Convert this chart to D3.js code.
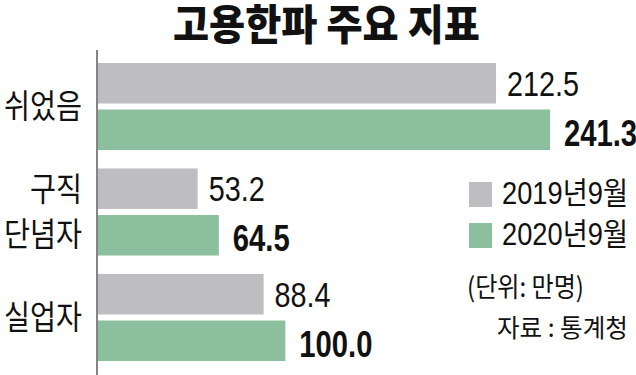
<!DOCTYPE html>
<html>
<head>
<meta charset="utf-8">
<script src="https://cdn.jsdelivr.net/npm/d3@7"></script>
<style>
  body { margin: 0; background: #fff; }
  svg { display: block; }
  text { fill: #111; }
</style>
</head>
<body>
<script>
// data
const categories = ["쉬었음", "구직 단념자", "실업자"];
const series = ["2019년9월", "2020년9월"];
const values2019 = [212.5, 53.2, 88.4];
const values2020 = [241.3, 64.5, 100.0];
const title = "고용한파 주요 지표";
const unitLabel = "(단위: 만명)";
const sourceLabel = "자료 : 통계청";

const width = 636, height = 375;
const colors = ["#bebdc2", "#8cbf9d"];
const axisX = 97;

const svg = d3.select("body").append("svg")
    .attr("width", width)
    .attr("height", height);

/**
 * Squeezes a text horizontally so it spans w pixels,
 * the typeset is condensed in the original graphic.
 */
function fit(sel, x, y, w) {
    sel.attr("x", 0).attr("y", 0);
    const len = sel.node().getComputedTextLength();
    const s = w / len;
    sel.attr("transform", `translate(${x},${y}) scale(${s},1)`);
    return sel;
}

const rows = categories.map((c, i) => ({
    name: c,
    vals: [values2019[i], values2020[i]]
}));

// scales
const x = d3.scaleLinear().domain([0, 241.3]).range([axisX + 1, 550]);
const y = d3.scaleBand().domain(categories).range([63, 361]).paddingInner(0.175);
const ySub = d3.scaleBand().domain(series).range([0, y.bandwidth()]).paddingInner(0.13);

// title
fit(svg.append("text")
    .attr("font-family", "Noto Sans CJK KR")
    .attr("font-weight", 900)
    .attr("font-size", 42)
    .text(title), 173, 40, 307);

// bars
const group = svg.selectAll("g.row")
  .data(rows)
  .join("g")
    .classed("row", true)
    .attr("transform", d => `translate(0,${y(d.name)})`);

group.selectAll("rect")
  .data(d => d.vals.map((v, j) => ({v, s: series[j], j})))
  .join("rect")
    .attr("x", x(0))
    .attr("y", d => ySub(d.s))
    .attr("width", d => x(d.v) - x(0))
    .attr("height", ySub.bandwidth())
    .attr("fill", d => colors[d.j]);

// value labels, condensed
group.selectAll("text.val")
  .data(d => d.vals.map((v, j) => ({v, s: series[j], j})))
  .join("text")
    .classed("val", true)
    .attr("font-family", "Liberation Sans, Arial, sans-serif")
    .attr("font-size", d => d.j === 1 ? 37 : 36)
    .attr("font-weight", d => d.j === 1 ? 700 : 400)
    .attr("transform", d => {
        const bold = d.j === 1;
        const tx = x(d.v) + (bold ? 14 : 11);
        const ty = ySub(d.s) + ySub.bandwidth() / 2 + (bold ? 16 : 12.5);
        return `translate(${tx},${ty}) scale(${bold ? 0.79 : 0.8},1)`;
    })
    .text(d => d.v.toFixed(1));

// category labels
group.each(function(d) {
    const lines = d.name.split(" ");
    const g = d3.select(this);
    const cy = y.bandwidth() / 2;
    const lh = 45;
    lines.forEach((ln, k) => {
        const t = g.append("text")
            .attr("dy", "0.36em")
            .attr("text-anchor", "end")
            .attr("font-family", "Noto Sans CJK KR")
            .attr("font-size", 33)
            .text(ln);
        fit(t, 82, cy + (k - (lines.length - 1) / 2) * lh, 1);
        // keep anchor at right edge: rescale to target width
        const len = t.node().getComputedTextLength();
        t.attr("transform", `translate(82,${cy + (k - (lines.length - 1) / 2) * lh}) scale(${ln.length * 26 / len},1)`);
    });
});

// axis line
svg.append("line")
    .attr("x1", axisX).attr("x2", axisX)
    .attr("y1", 50).attr("y2", height)
    .attr("stroke", "#333")
    .attr("stroke-width", 1.2);

// legend
const legend = svg.append("g").attr("transform", "translate(469,182)");
series.forEach((s, i) => {
    legend.append("rect")
        .attr("x", 0)
        .attr("y", i * 41)
        .attr("width", 23)
        .attr("height", 25)
        .attr("fill", colors[i]);
    fit(legend.append("text")
        .attr("font-family", "Liberation Sans, Noto Sans CJK KR, sans-serif")
        .attr("font-size", 31)
        .text(s), 33, i * 41 + 22, 126);
});

fit(svg.append("text")
    .attr("dy", "0.36em")
    .attr("font-family", "Noto Sans CJK KR")
    .attr("font-size", 27)
    .text(unitLabel), 467, 287, 117);

fit(svg.append("text")
    .attr("dy", "0.36em")
    .attr("font-family", "Noto Sans CJK KR")
    .attr("font-size", 25)
    .text(sourceLabel), 497, 328, 131);
</script>
</body>
</html>
